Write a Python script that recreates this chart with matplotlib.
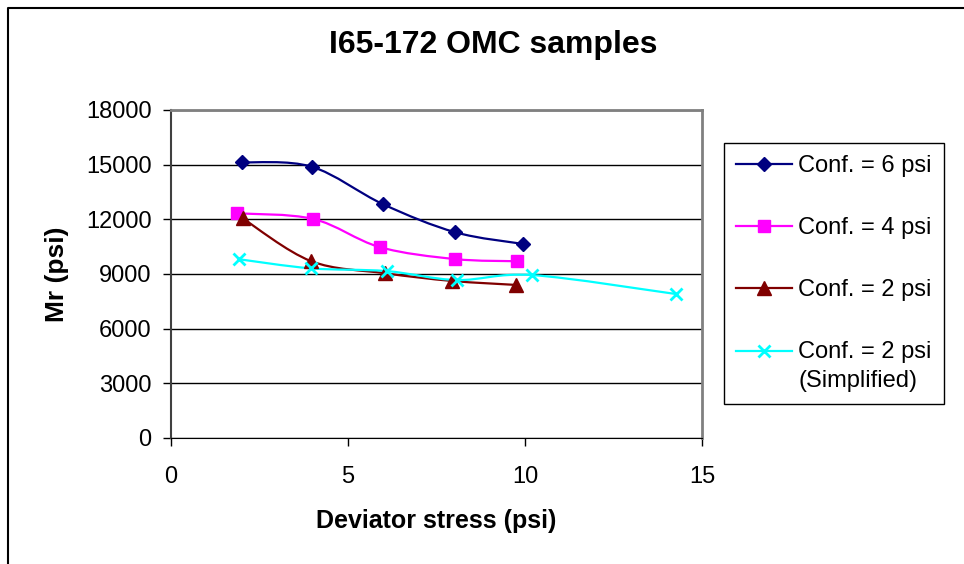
import numpy as np
import matplotlib.pyplot as plt
from matplotlib.path import Path
from matplotlib.patches import PathPatch
from matplotlib.lines import Line2D
from matplotlib.legend_handler import HandlerLine2D

plt.rcParams['font.family'] = ['Liberation Sans', 'DejaVu Sans']

# Dados (tensão desviadora em psi, Mr em psi)
x6 = [2.00, 3.97, 6.00, 8.03, 9.94]
mr6 = [15130, 14890, 12820, 11290, 10650]
x4 = [1.87, 4.02, 5.89, 8.02, 9.78]
mr4 = [12330, 12020, 10480, 9820, 9700]
x2 = [2.02, 3.95, 6.05, 7.93, 9.75]
mr2 = [12060, 9710, 9040, 8620, 8400]
x2s = [1.92, 3.95, 6.09, 8.07, 10.21, 14.27]
mr2s = [9810, 9310, 9160, 8670, 8940, 7900]

labels = ['Conf. = 6 psi', 'Conf. = 4 psi', 'Conf. = 2 psi', 'Conf. = 2 psi\n(Simplified)']
xticks = [0, 5, 10, 15]
yticks = [0, 3000, 6000, 9000, 12000, 15000, 18000]

colors = ['#000080', '#FF00FF', '#800000', '#00FFFF']
markers = ['D', 's', '^', 'x']
msizes = [7, 8, 10, 9]
fs_leg = 17


def smooth_path(x, y):
    # linha suavizada estilo Excel: bezier cubica passando por todos os pontos
    p = np.column_stack([x, y]).astype(float)
    pp = np.vstack([p[0], p, p[-1]])
    verts = [p[0]]
    codes = [Path.MOVETO]
    for i in range(len(p) - 1):
        c1 = pp[i + 1] + (pp[i + 2] - pp[i]) / 6
        c2 = pp[i + 2] - (pp[i + 3] - pp[i + 1]) / 6
        verts += [c1, c2, pp[i + 2]]
        codes += [Path.CURVE4] * 3
    return Path(verts, codes)


class TopLineHandler(HandlerLine2D):
    # coloca o simbolo na primeira linha do rotulo de duas linhas
    def create_artists(self, legend, orig_handle, xdescent, ydescent,
                       width, height, fontsize, trans):
        shift = 0.66 * fontsize
        return super().create_artists(legend, orig_handle, xdescent, ydescent - 2 * shift,
                                      width, height, fontsize, trans)


fig = plt.figure(figsize=(9.64, 5.64), dpi=100)
# moldura do grafico (so esquerda e topo aparecem)
fig.add_artist(Line2D([8 / 964, 8 / 964, 1], [0, 1 - 8 / 564, 1 - 8 / 564],
                      transform=fig.transFigure, color='black', lw=1.5))
ax = fig.add_axes([171 / 964, 1 - 438 / 564, 531 / 964, 328 / 564])

series = [(x6, mr6), (x4, mr4), (x2, mr2), (x2s, mr2s)]
handles = []
for (xs, ys), c, m, ms, lab in zip(series, colors, markers, msizes, labels):
    ax.add_patch(PathPatch(smooth_path(xs, ys), fill=False, edgecolor=c, lw=1.6, zorder=3))
    mew = 2 if m == 'x' else 1
    ax.plot(xs, ys, linestyle='none', marker=m, ms=ms, color=c, mec=c, mew=mew, zorder=4)
    handles.append(Line2D([], [], color=c, lw=1.6, marker=m, ms=ms, mew=mew, label=lab))

ax.set_xlim(0, 15)
ax.set_ylim(0, 18000)
ax.set_xticks(xticks)
ax.set_yticks(yticks)
ax.yaxis.grid(True, color='black', lw=1)
ax.set_axisbelow(True)
ax.tick_params(direction='out', length=6, width=1, labelsize=17, colors='black')
ax.tick_params(axis='x', pad=14)
ax.tick_params(axis='y', pad=8)
for s in ['top', 'right']:
    ax.spines[s].set_color('#808080')
    ax.spines[s].set_linewidth(2)
ax.spines['left'].set_color('#404040')
ax.spines['left'].set_linewidth(1.5)
ax.spines['bottom'].set_color('black')

ax.set_xlabel('Deviator stress (psi)', fontsize=18, fontweight='bold', labelpad=15)
ax.set_ylabel('Mr (psi)', fontsize=19, fontweight='bold', labelpad=12)
fig.text(493 / 964, 1 - 53 / 564, 'I65-172 OMC samples', fontsize=23, fontweight='bold',
         ha='center', va='baseline')

leg = fig.legend(handles=handles, loc='upper left', bbox_to_anchor=(724 / 964, 1 - 143 / 564),
                 borderaxespad=0, fontsize=fs_leg, handlelength=2.4, handletextpad=0.25,
                 labelspacing=1.7, borderpad=0.5, fancybox=False, framealpha=1,
                 handler_map={handles[3]: TopLineHandler()})
leg.get_frame().set_edgecolor('black')
leg.get_frame().set_linewidth(1)
leg.get_texts()[3].set_linespacing(1.4)

plt.savefig('out.png', dpi=100)
